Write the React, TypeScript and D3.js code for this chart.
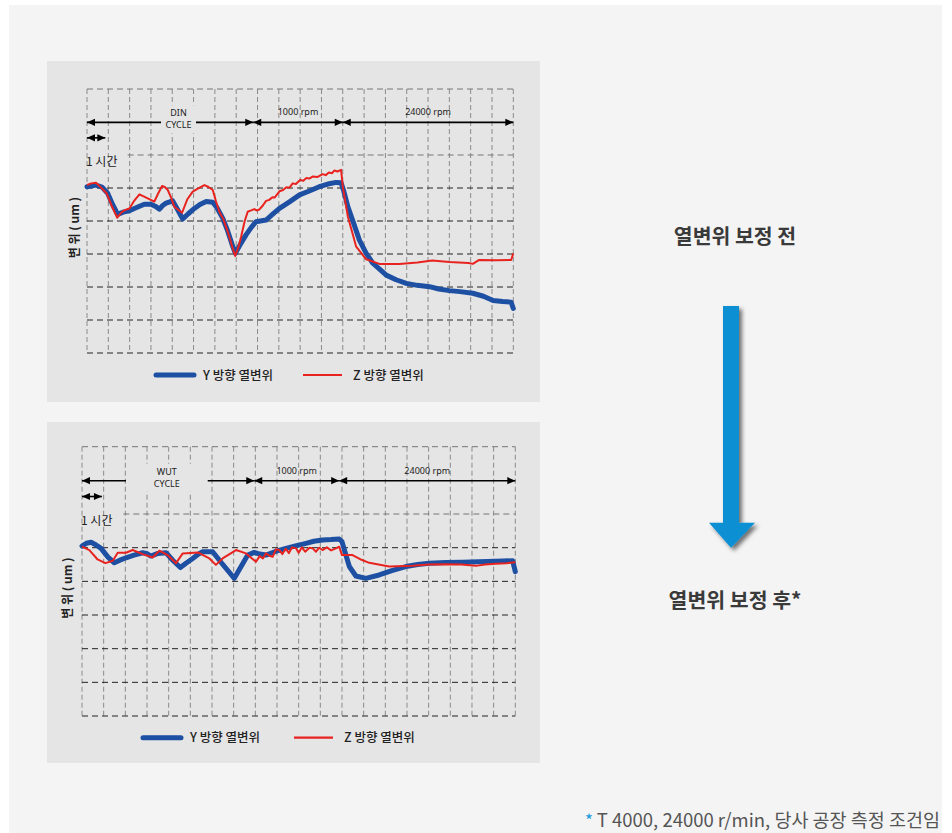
import React from 'react';
import * as d3 from 'd3';

// ---------- data (x in grid columns 0..20, y displacement in µm; grid step 10 µm) ----------
const gridValues = [30, 20, 10, 0, -10, -20, -30, -40, -50];
const seriesNames = ['Y 방향 열변위', 'Z 방향 열변위'];

const topSegments = [0, 7.8, 12, 20];
const topSegmentLabels = ['DIN|CYCLE', '1000 rpm', '24000 rpm'];
const topHourSpan = [0, 0.86];

const bottomSegments = [0, 7.95, 11.87, 20];
const bottomSegmentLabels = ['WUT|CYCLE', '1000 rpm', '24000 rpm'];
const bottomHourSpan = [0, 0.92];

const topY: [number, number][] = [
  [0, 0.4], [0.42, 0.9], [0.7, 0.3], [0.97, -1.6], [1.2, -5], [1.44, -8.0], [1.7, -7.3], [1.99, -6.9],
  [2.3, -6], [2.69, -4.9], [3.0, -4.9], [3.2, -5.5], [3.4, -6.4], [3.55, -5.3], [3.71, -4.6], [4.02, -3.9],
  [4.25, -6.5], [4.49, -9.4], [4.75, -7.8], [5.04, -6.2], [5.3, -5], [5.59, -4.1], [5.9, -4.3], [6.1, -6],
  [6.37, -9.2], [6.6, -13], [6.8, -17], [6.96, -19.8], [7.2, -17], [7.46, -14.2], [7.7, -12], [7.93, -10.2],
  [8.4, -9.7], [8.7, -8], [9.03, -6.2], [9.5, -4.2], [9.97, -2.1], [10.4, -1], [10.9, 0.4], [11.3, 1.2],
  [11.69, 1.7], [11.92, 1.6], [12.05, -1], [12.24, -5.7], [12.5, -10.5], [12.78, -15.8], [13.1, -19.8],
  [13.41, -22.8], [14.04, -26.4], [14.5, -27.8], [14.98, -28.9], [15.5, -29.5], [16.07, -29.9], [16.5, -30.6],
  [17.0, -31.1], [17.5, -31.4], [18.1, -31.9], [18.6, -32.8], [19.05, -34.1], [19.5, -34.4], [19.9, -34.6], [20, -36.5],
];

const topZ: [number, number][] = [
  [0, 0.9], [0.2, 1.4], [0.42, 1.6], [0.6, 0.5], [0.92, -1.6], [1.2, -6], [1.42, -9.0], [1.6, -7.5], [1.77, -6.7],
  [1.99, -6.2], [2.2, -4], [2.46, -1.9], [2.8, -3], [3.16, -4.1], [3.35, -1.5], [3.52, 0.6], [3.65, 0.3], [3.79, -0.6],
  [3.95, -3], [4.1, -5.7], [4.46, -7.5], [4.7, -3.5], [4.96, -1.1], [5.2, -0.2], [5.51, 0.9], [5.7, 0.3], [5.9, -0.6],
  [6.05, -4], [6.21, -7.2], [6.4, -9.5], [6.6, -13.2], [6.8, -17.5], [6.95, -20.6], [7.1, -18], [7.23, -14.8],
  [7.4, -10], [7.54, -7.2], [7.7, -6.8], [7.85, -6.4], [7.95, -6.8], [8.09, -6.5], [8.25, -5.3], [8.4, -3.9],
  [8.55, -3.6], [8.7, -2.8], [8.8, -2.9], [9.03, -1.0], [9.2, -0.6], [9.35, 0.2], [9.5, 0.1], [9.65, 1.4], [9.8, 1.2],
  [10.0, 2.4], [10.15, 2.2], [10.28, 3.0], [10.45, 2.9], [10.6, 3.5], [10.8, 3.3], [11.06, 4.2], [11.2, 3.9],
  [11.35, 4.7], [11.5, 4.5], [11.6, 5.3], [11.75, 5.0], [11.92, 5.5], [12.0, 0.4], [12.24, -8.7], [12.63, -17.8],
  [13.1, -21.6], [13.72, -23.0], [14.66, -23.0], [15.5, -22.6], [16.2, -22.0], [17.0, -22.4], [17.9, -22.7],
  [18.1, -23.0], [18.4, -21.8], [19.2, -21.9], [19.9, -21.8], [20, -19.8],
];

const bottomY: [number, number][] = [
  [0, 0.5], [0.2, 1.3], [0.42, 1.6], [0.65, 0.8], [0.88, -0.2], [1.2, -2.8], [1.49, -4.5], [1.75, -3.7], [2.03, -3.0],
  [2.4, -2.2], [2.8, -1.5], [3.0, -1.8], [3.18, -2.5], [3.5, -1.7], [3.88, -1.5], [4.2, -3.8], [4.54, -5.9], [4.8, -4.6],
  [5.11, -3.2], [5.35, -2], [5.57, -1.2], [6.03, -1.2], [6.5, -5], [7.03, -9.1], [7.35, -5.5], [7.65, -2.2], [7.95, -1.4],
  [8.2, -1.9], [8.49, -2.2], [8.9, -1.2], [9.41, -0.2], [9.9, 0.6], [10.34, 1.3], [10.7, 1.9], [11.1, 2.3], [11.5, 2.4],
  [11.87, 2.6], [12.0, 1.8], [12.15, -1.5], [12.34, -5.6], [12.64, -8.4], [13.1, -9.1], [13.72, -8.1], [14.3, -6.8],
  [14.95, -5.6], [15.5, -5.0], [16.03, -4.6], [16.8, -4.4], [17.57, -4.3], [18.3, -4.2], [19.1, -4.0], [19.88, -3.9], [20, -7.1],
];

const bottomZ: [number, number][] = [
  [0, 0.3], [0.34, -0.7], [0.72, -3.5], [1.08, -4.6], [1.42, -3.9], [1.65, -1.5], [2.03, -1.5], [2.34, -0.7], [2.8, -1.9],
  [3.26, -2.9], [3.57, -0.9], [3.95, -2.2], [4.34, -4.6], [4.65, -1.7], [5.34, -1.4], [5.88, -3.2], [6.18, -5.1],
  [6.49, -3.2], [7.11, -0.7], [7.57, -1.7], [8.03, -4.2], [8.2, -2.5], [8.35, -3.2], [8.49, -1.7], [8.65, -2.4],
  [8.8, -2.7], [8.95, -0.5], [9.11, -0.7], [9.25, -1.9], [9.4, -0.3], [9.55, -1.6], [9.7, 0.1], [9.88, -0.2], [10.0, -1.5],
  [10.15, 0.1], [10.3, -1.2], [10.5, 0.0], [10.65, -0.2], [10.8, -1.2], [10.95, 0.0], [11.1, -0.7], [11.3, 0.1],
  [11.5, -0.8], [11.72, -0.2], [11.87, 0.3], [12.0, -2.2], [12.49, -2.2], [12.9, -3.6], [13.26, -4.5], [14.18, -5.6],
  [15.26, -5.4], [16.0, -5.0], [16.8, -4.9], [17.5, -5.0], [18.18, -5.4], [18.6, -5.0], [19.1, -4.8], [19.6, -4.6], [20.0, -4.3],
];

const titleBefore = '열변위 보정 전';
const titleAfter = '열변위 보정 후*';
const footnote = 'T 4000, 24000 r/min, 당사 공장 측정 조건임';

// ---------- styles ----------
const BLUE = '#1d4fa3';
const RED = '#e8231f';
const PANEL = '#e5e5e5';
const KR = '"Noto Sans CJK KR", "Noto Sans", sans-serif';

type ChartProps = {
  panel: { x: number; y: number; w: number; h: number };
  plot: { x0: number; x1: number; y0: number; y1: number };
  segments: number[];
  segLabels: string[];
  hourSpan: number[];
  yData: [number, number][];
  zData: [number, number][];
  labelBox: { x0: number; x1: number };
  yLabelX: number;
  legend: { y: number; blueX: number; redX: number };
};

function arrowHead(x: number, y: number, dir: number) {
  const L = 8, W = 3.6;
  return `M${x},${y} L${x - dir * L},${y - W} L${x - dir * L},${y + W} Z`;
}

function Chart(p: ChartProps) {
  const x = d3.scaleLinear().domain([0, 20]).range([p.plot.x0, p.plot.x1]);
  const y = d3.scaleLinear().domain([30, -50]).range([p.plot.y0, p.plot.y1]);
  const line = d3.line<[number, number]>().x(d => x(d[0])).y(d => y(d[1]));
  const cols = d3.range(0, 21);
  const arrowY = y(19.9);
  const hourY = y(15.2);
  return (
    <g>
      <rect x={p.panel.x} y={p.panel.y} width={p.panel.w} height={p.panel.h} fill={PANEL} />
      {cols.map(c => (
        <line key={'v' + c} x1={x(c)} x2={x(c)} y1={y(30)} y2={y(-50)} stroke="#8a8a8a" strokeWidth={1} strokeDasharray="5,3" />
      ))}
      {gridValues.filter(v => v !== 20).map(v => (
        <line key={'h' + v} x1={v === 10 ? x(2) - 2 : x(0)} x2={x(20)} y1={y(v)} y2={y(v)}
          stroke={v >= 10 ? '#777' : '#222'} strokeWidth={1} strokeDasharray="6,4" />
      ))}
      {/* label gap behind the cycle label */}
      <rect x={p.labelBox.x0} y={arrowY - 17} width={p.labelBox.x1 - p.labelBox.x0} height={28} fill={PANEL} />
      {/* segment arrows */}
      {p.segLabels.map((lab, i) => {
        const a = x(p.segments[i]);
        const b = x(p.segments[i + 1]);
        const mid = (a + b) / 2;
        const parts = lab.split('|');
        return (
          <g key={'s' + i}>
            {parts.length > 1 ? (
              <>
                <line x1={a} x2={p.labelBox.x0} y1={arrowY} y2={arrowY} stroke="#000" strokeWidth={1.6} />
                <line x1={p.labelBox.x1} x2={b} y1={arrowY} y2={arrowY} stroke="#000" strokeWidth={1.6} />
                <text x={(p.labelBox.x0 + p.labelBox.x1) / 2} y={arrowY - 6} textAnchor="middle" fontSize={9} fontFamily="Noto Sans, sans-serif" fill="#222">{parts[0]}</text>
                <text x={(p.labelBox.x0 + p.labelBox.x1) / 2} y={arrowY + 6} textAnchor="middle" fontSize={9} fontFamily="Noto Sans, sans-serif" fill="#222">{parts[1]}</text>
              </>
            ) : (
              <>
                <line x1={a} x2={b} y1={arrowY} y2={arrowY} stroke="#000" strokeWidth={1.6} />
                <text x={mid} y={arrowY - 7} textAnchor="middle" fontSize={9} fontFamily="Noto Sans, sans-serif" fill="#222">{lab}</text>
              </>
            )}
            <path d={arrowHead(a, arrowY, -1)} fill="#000" />
            <path d={arrowHead(b, arrowY, 1)} fill="#000" />
          </g>
        );
      })}
      {/* 1 hour arrow */}
      <line x1={x(p.hourSpan[0])} x2={x(p.hourSpan[1])} y1={hourY} y2={hourY} stroke="#000" strokeWidth={1.6} />
      <path d={arrowHead(x(p.hourSpan[0]), hourY, -1)} fill="#000" />
      <path d={arrowHead(x(p.hourSpan[1]), hourY, 1)} fill="#000" />
      <text x={x(0) - 1} y={y(6.6)} fontSize={12} fontFamily={KR} fill="#222">1 시간</text>
      {/* y label */}
      <text transform={`translate(${p.yLabelX},${y(-12)}) rotate(-90)`} textAnchor="middle" fontSize={12} fontWeight={600} fontFamily={KR} fill="#222">변 위 ( um )</text>
      {/* series */}
      <path d={line(p.yData) || ''} fill="none" stroke={BLUE} strokeWidth={5} strokeLinejoin="round" strokeLinecap="round" />
      <path d={line(p.zData) || ''} fill="none" stroke={RED} strokeWidth={2} strokeLinejoin="round" />
      {/* legend */}
      <line x1={p.legend.blueX} x2={p.legend.blueX + 38} y1={p.legend.y} y2={p.legend.y} stroke={BLUE} strokeWidth={5} strokeLinecap="round" />
      <text x={p.legend.blueX + 47} y={p.legend.y + 4.5} fontSize={12.5} fontWeight={500} fontFamily={KR} fill="#222">{seriesNames[0]}</text>
      <line x1={p.legend.redX} x2={p.legend.redX + 39} y1={p.legend.y} y2={p.legend.y} stroke={RED} strokeWidth={2.2} />
      <text x={p.legend.redX + 50} y={p.legend.y + 4.5} fontSize={12.5} fontWeight={500} fontFamily={KR} fill="#222">{seriesNames[1]}</text>
    </g>
  );
}

export default function App() {
  return (
    <svg width={952} height={833} style={{ position: 'absolute', left: 0, top: 0 }}>
      <defs>
        <filter id="shadow" x="-50%" y="-20%" width="200%" height="140%">
          <feDropShadow dx={3} dy={3} stdDeviation={2.2} floodColor="#000" floodOpacity={0.55} />
        </filter>
      </defs>
      <rect x={0} y={0} width={952} height={833} fill="#fff" />
      <rect x={9} y={5} width={933} height={828} fill="#f4f4f4" />
      <Chart
        panel={{ x: 47, y: 61, w: 493, h: 341 }}
        plot={{ x0: 87, x1: 513.3, y0: 89, y1: 353 }}
        segments={topSegments}
        segLabels={topSegmentLabels}
        hourSpan={topHourSpan}
        yData={topY}
        zData={topZ}
        labelBox={{ x0: 161, x1: 196 }}
        yLabelX={79}
        legend={{ y: 375, blueX: 156, redX: 303 }}
      />
      <Chart
        panel={{ x: 47, y: 422, w: 493, h: 341 }}
        plot={{ x0: 82, x1: 515.3, y0: 446.7, y1: 716 }}
        segments={bottomSegments}
        segLabels={bottomSegmentLabels}
        hourSpan={bottomHourSpan}
        yData={bottomY}
        zData={bottomZ}
        labelBox={{ x0: 126, x1: 207.7 }}
        yLabelX={72}
        legend={{ y: 737.7, blueX: 143, redX: 294 }}
      />
      {/* right side */}
      <text x={735} y={244} textAnchor="middle" fontSize={20.5} fontWeight={700} fontFamily={KR} fill="#3a3a3a">{titleBefore}</text>
      <g filter="url(#shadow)">
        <path d="M723,306 L739,306 L739,522.7 L755,522.7 L731,547.7 L709,522.7 L723,522.7 Z" fill="#0a8fd4" />
      </g>
      <text x={735} y={608} textAnchor="middle" fontSize={20.5} fontWeight={700} fontFamily={KR} fill="#3a3a3a">{titleAfter}</text>
      <text x={940} y={827} textAnchor="end" fontSize={18.5} fontFamily={KR} fill="#555">
        <tspan fill="#1a9ad8" fontSize={17}>* </tspan>{footnote}
      </text>
    </svg>
  );
}
